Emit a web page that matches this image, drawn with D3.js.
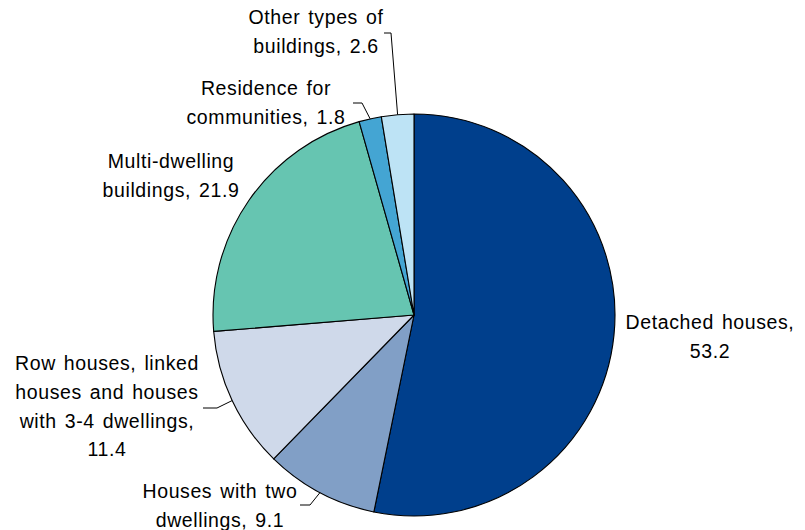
<!DOCTYPE html>
<html>
<head>
<meta charset="utf-8">
<script src="https://cdn.jsdelivr.net/npm/d3@7"></script>
<style>
  html, body { margin: 0; padding: 0; background: #ffffff; }
  svg { display: block; }
  text { font-family: "Liberation Sans", Arial, sans-serif; font-size: 19.5px; fill: #000; letter-spacing: 0.6px; word-spacing: 2px; }
</style>
</head>
<body>
<svg id="chart" width="805" height="530"></svg>
<script>
// Dwelling stock by type of building, per cent
const categories = [
  "Detached houses",
  "Houses with two dwellings",
  "Row houses, linked houses and houses with 3-4 dwellings",
  "Multi-dwelling buildings",
  "Residence for communities",
  "Other types of buildings"
];
const values = [53.2, 9.1, 11.4, 21.9, 1.8, 2.6];
const colors = ["#003f8c", "#819fc6", "#cfd9ea", "#66c5b1", "#44a5d3", "#bde3f5"];
const labelLines = [
  ["Detached houses,", "53.2"],
  ["Houses with two", "dwellings, 9.1"],
  ["Row houses, linked", "houses and houses", "with 3-4 dwellings,", "11.4"],
  ["Multi-dwelling", "buildings, 21.9"],
  ["Residence for", "communities, 1.8"],
  ["Other types of", "buildings, 2.6"]
];

// Label placement: text centre x, first baseline y, optional leader elbow and leader start
const labelLayout = [
  { x: 710, y: 329 },
  { x: 220, y: 498, elbow: [310, 505], start: [300, 505] },
  { x: 107, y: 370, elbow: [217, 408], start: [203, 408] },
  { x: 171, y: 168 },
  { x: 266, y: 95,  elbow: [362, 103], start: [353, 103] },
  { x: 316, y: 24,  elbow: [391, 33],  start: [384, 33] }
];
const lineStep = 28.8;

const svg = d3.select("#chart");
const cx = 414, cy = 315, radius = 201;

const data = categories.map((c, i) => ({ category: c, value: values[i], index: i }));

const pie = d3.pie().value(d => d.value).sort(null);
const arcs = pie(data);

const arc = d3.arc().innerRadius(0).outerRadius(radius);
const edgeArc = d3.arc().innerRadius(radius).outerRadius(radius);

const g = svg.append("g").attr("transform", `translate(${cx},${cy})`);

g.selectAll("path.slice")
  .data(arcs)
  .join("path")
  .attr("class", "slice")
  .attr("d", arc)
  .attr("fill", d => colors[d.data.index])
  .attr("stroke", "#000")
  .attr("stroke-width", 1.1)
  .attr("stroke-linejoin", "round");

// Leader lines from label to the slice edge at its mid-angle
arcs.forEach(d => {
  const lay = labelLayout[d.data.index];
  if (!lay.elbow) return;
  const p = edgeArc.centroid(d);
  const end = [cx + p[0], cy + p[1]];
  svg.append("polyline")
    .attr("points", [lay.start, lay.elbow, end].map(q => q.join(",")).join(" "))
    .attr("fill", "none")
    .attr("stroke", "#000")
    .attr("stroke-width", 1);
});

// Category labels
labelLines.forEach((lines, i) => {
  const lay = labelLayout[i];
  const t = svg.append("text")
    .attr("text-anchor", "middle");
  lines.forEach((line, k) => {
    t.append("tspan")
      .attr("x", lay.x)
      .attr("y", lay.y + k * lineStep)
      .text(line);
  });
});
</script>
</body>
</html>
